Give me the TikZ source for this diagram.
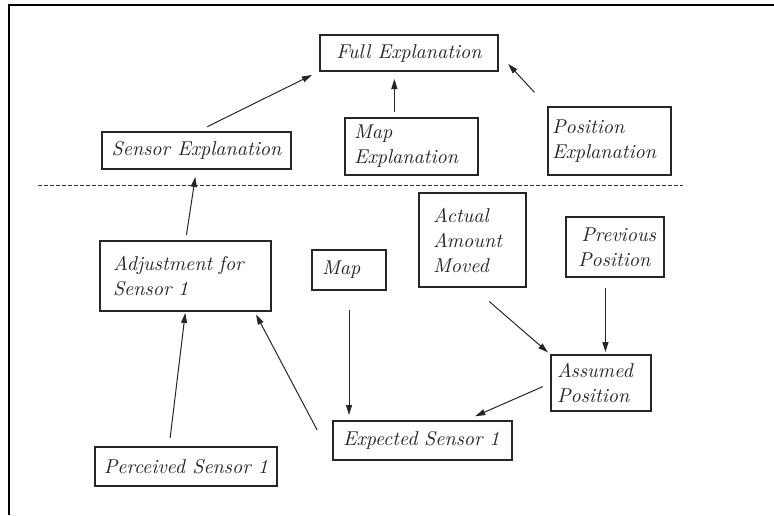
\documentclass[tikz,border=0pt]{standalone}
\usepackage{xcolor}
\usepackage{tikz}
\usetikzlibrary{positioning}
\usetikzlibrary{arrows.meta}
\usetikzlibrary{shapes}

\begin{document}
\begin{tikzpicture}[x=0.5pt, y=-0.5pt,
                	    box/.style = { draw, black!85, text = black!85, line width = 0.6pt, font = \fontsize{10}{12.5}\selectfont\itshape, align = left, inner ysep = 0pt, outer sep = 0pt },
                		single/.style = { box, align = center },
                		link/.style = { -{Triangle[length = 5pt, width = 3pt]}, line width = 0.5pt, black!85 },
            		]
            		    \useasboundingbox (0,0) rectangle (774,515);
            		    % frame and divider
            		    \draw[line width = 1pt] (9,515) -- (9,5) -- (774,5);
            		    \draw[line width = 0.5pt, black!80, dash pattern = on 2pt off 1pt] (38,185) -- (683,185);
            		    % explanation level
            		    \node[single, minimum width = 89pt, minimum height = 18pt] (FullExp) at (409,53) {Full Explanation};
            		    \node[single, minimum width = 94.5pt, minimum height = 18.5pt] (SensorExp) at (196.5,150.5) {Sensor Explanation};
            		    \node[box, text width = 57.5pt, inner xsep = 4.5pt, minimum height = 28.5pt] (MapExp) at (411.5,146.5) {Map\\Explanation};
            		    \node[box, text width = 57.5pt, inner xsep = 2pt, minimum height = 34pt] (PosExp) at (609.5,141) {Position\\Explanation};
            		    % data level
            		    \node[box, text width = 72.5pt, inner xsep = 6.5pt, minimum height = 35pt] (Adjust) at (185.5,276) {Adjustment for\\Sensor 1};
            		    \node[box, text width = 27pt, inner xsep = 5pt, minimum height = 20pt] (Map) at (349,270) {Map};
            		    \node[box, text width = 39.5pt, inner xsep = 7pt, minimum height = 47pt] (Actual) at (472.5,240) {Actual\\Amount\\Moved};
            		    \node[box, text width = 37pt, inner xsep = 6pt, minimum height = 30pt] (PrevPos) at (615,247) {\,Previous\\Position};
            		    \node[box, text width = 44pt, inner xsep = 3pt, minimum height = 28pt] (Assumed) at (601,383) {Assumed\\Position};
            		    \node[box, text width = 79.5pt, inner xsep = 5pt, minimum height = 19.5pt] (Expected) at (422.5,440.5) {Expected Sensor 1};
            		    \node[single, minimum width = 91pt, minimum height = 19.5pt] (Perceived) at (186,466.5) {Perceived Sensor 1};
            		    % arrows
            		    \draw[link, shorten < = 6pt, shorten > = 4.5pt] (SensorExp.north) -- (FullExp.south west);
            		    \draw[link, shorten < = 3pt, shorten > = 4pt] (MapExp.121) -- (MapExp.121 |- FullExp.south);
            		    \draw[link, shorten < = 10pt, shorten > = 7.5pt] (PosExp.north west) -- (FullExp.east);
            		    \draw[link, shorten < = 3pt, shorten > = 4pt] (Adjust.north) -- (SensorExp.south);
            		    \draw[link, shorten < = 4.5pt, shorten > = 1pt] (Perceived.131) -- (Adjust.south);
            		    \draw[link, shorten < = 17pt, shorten > = 2pt] (Expected.south west) -- (Adjust.-27);
            		    \draw[link, shorten < = 10pt, shorten > = 3pt] (Map.south) -- (Map.south |- Expected.north);
            		    \draw[link, shorten < = 11pt, shorten > = 2pt] (Actual.south) -- (Assumed.north west);
            		    \draw[link, shorten < = 5.5pt, shorten > = 1.5pt] (PrevPos.south -| Assumed.81) -- (Assumed.81);
            		    \draw[link, shorten < = 4.5pt, shorten > = 6pt] (Assumed.west) -- (Expected.25);
            		\end{tikzpicture}
\end{document}
